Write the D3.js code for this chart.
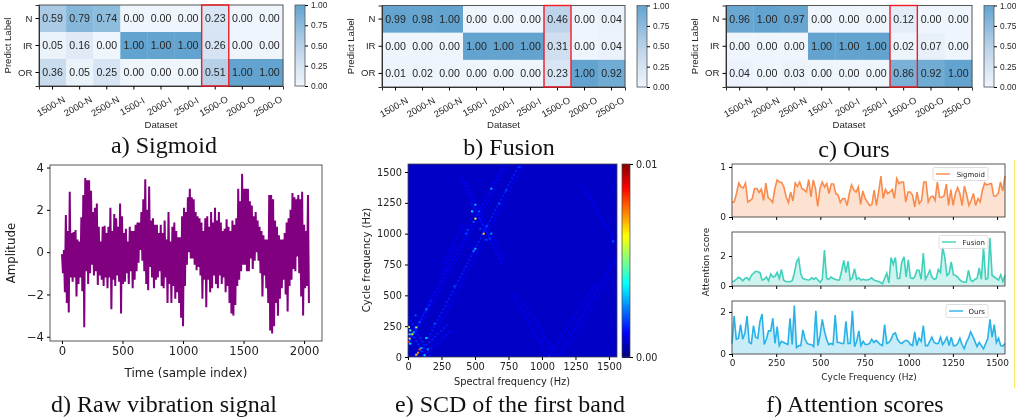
<!DOCTYPE html>
<html>
<head>
<meta charset="utf-8">
<script src="https://cdn.jsdelivr.net/npm/d3@7"></script>
<style>
  html, body { margin: 0; padding: 0; background: #fff; }
  svg { display: block; filter: blur(0.4px); }
  .caption { font-family: "Liberation Serif", serif; font-size: 24px; fill: #111; text-anchor: middle; }
  .heat text { font-family: "Liberation Sans", Arial, sans-serif; fill: #262626; }
  .mpl text { font-family: "DejaVu Sans", sans-serif; fill: #222; }
</style>
</head>
<body>
<div class="chart"></div>
<script>
// confusion matrices
var datasets = ["1500-N", "2000-N", "2500-N", "1500-I", "2000-I", "2500-I", "1500-O", "2000-O", "2500-O"];
var predictLabels = ["N", "IR", "OR"];
var sigmoidMatrix = [
  [0.59, 0.79, 0.74, 0.00, 0.00, 0.00, 0.23, 0.00, 0.00],
  [0.05, 0.16, 0.00, 1.00, 1.00, 1.00, 0.26, 0.00, 0.00],
  [0.36, 0.05, 0.25, 0.00, 0.00, 0.00, 0.51, 1.00, 1.00]
];
var fusionMatrix = [
  [0.99, 0.98, 1.00, 0.00, 0.00, 0.00, 0.46, 0.00, 0.04],
  [0.00, 0.00, 0.00, 1.00, 1.00, 1.00, 0.31, 0.00, 0.04],
  [0.01, 0.02, 0.00, 0.00, 0.00, 0.00, 0.23, 1.00, 0.92]
];
var oursMatrix = [
  [0.96, 1.00, 0.97, 0.00, 0.00, 0.00, 0.12, 0.00, 0.00],
  [0.00, 0.00, 0.00, 1.00, 1.00, 1.00, 0.02, 0.07, 0.00],
  [0.04, 0.00, 0.03, 0.00, 0.00, 0.00, 0.86, 0.92, 1.00]
];
var heatTicks = [0, 0.25, 0.5, 0.75, 1];

// raw signal, top and bottom of the trace read every 16 samples
var signalHigh = [
  -0.1, 0.1, 1.75, 1.0, 2.85, 0.9, 0.95, 1.05, 0.6, 0.5, 1.65, 2.7, 3.5, 3.4, 3.4, 2.9,
  1.9, 2.1, 2.3, 1.2, 0.5, 1.2, 1.25, 0.9, 1.2, 2.1, 1.0, 1.8, 1.6, 1.2, 2.3, 1.7,
  0.9, 1.1, 0.5, 1.2, 1.0, 1.0, 1.3, 1.4, 1.4, 1.9, 2.5, 3.45, 2.0, 3.1, 1.5, 1.6,
  1.3, 1.3, 0.9, 1.3, 0.9, 1.5, 0.6, 1.9, 0.5, 1.2, 1.4, 1.0, 0.7, 0.7, 1.7, 2.1,
  1.9, 2.6, 3.0, 2.6, 2.5, 1.9, 1.7, 1.6, 1.4, 1.0, 1.6, 1.7, 1.2, 1.9, 1.4, 2.1,
  1.5, 1.9, 1.4, 1.0, 1.1, 1.55, 1.2, 1.0, 1.5, 1.3, 1.6, 3.0, 2.4, 3.7, 3.0, 3.0,
  3.0, 2.4, 2.2, 1.7, 1.9, 1.5, 1.2, 1.0, 0.8, 0.6, 0.6, 2.7, 2.7, 2.5, 1.5, 1.2,
  0.8, 0.6, 0.6, 0.9, 1.4, 1.6, 2.0, 2.8, 2.6, 2.5, 2.7, 2.5, 2.85, 1.3, 1.0, 2.7
];
var signalLow = [
  -1.0, -1.9, -2.4, -2.85, -1.2, -1.4, -1.2, -2.1, -1.5, -1.2, -1.85, -3.55, -0.9, -1.5, -1.0, -0.6,
  -1.1, -0.9, -1.55, -1.1, -1.3, -1.6, -1.2, -1.7, -1.2, -2.7, -1.3, -1.6, -1.1, -1.4, -2.9, -1.5,
  -1.4, -1.0, -1.5, -0.9, -1.7, -1.3, -0.9, -0.5, 0.1, -0.4, -0.9, -1.5, -1.8, -0.7, -1.2, -1.7,
  -1.3, -1.2, -0.9, -1.6, -1.7, -1.2, -2.4, -1.5, -2.4, -1.6, -2.2, -1.9, -2.4, -3.1, -3.5, -1.6,
  -0.6, 0.0, -0.3, -0.3, -0.6, -0.85, -0.7, -1.1, -2.2, -1.3, -2.6, -1.3, -1.9, -1.7, -1.1, -1.5,
  -1.7, -1.1, -1.5, -1.2, -1.9, -1.6, -2.4, -2.9, -3.0, -2.5, -1.6, -1.3, -0.9, -0.6, -0.6, -0.9,
  -0.9, -0.3, -0.8, -0.4, 0.0, -0.4, -1.0, -2.1, -1.1, -1.7, -2.4, -3.7, -3.85, -3.5, -2.4, -3.0,
  -2.2, -1.7, -1.3, -2.0, -2.8, -1.6, -1.3, -0.8, -0.9, -0.2, -1.0, -2.1, -3.0, -1.7, -1.6, -2.4
];

// SCD map: [spectral Hz, cycle Hz, value]
var scdBackground = 0.0007;
var scdPeaks = [
  [565, 1000, 0.0066], [503, 1122, 0.0062], [503, 1235, 0.0030], [478, 1181, 0.0035], [530, 1181, 0.0020],
  [490, 1095, 0.0020], [503, 878, 0.0030], [490, 860, 0.0025], [622, 1000, 0.0028], [587, 1062, 0.0020],
  [435, 1000, 0.0020], [622, 1365, 0.0030], [682, 1243, 0.0022], [734, 1351, 0.0020], [833, 1540, 0.0018],
  [348, 573, 0.0020], [137, 386, 0.0025], [62, 240, 0.0055], [7, 243, 0.0060], [17, 216, 0.0045],
  [12, 184, 0.0045], [32, 184, 0.0060], [42, 200, 0.0030], [12, 149, 0.0060], [7, 122, 0.0085],
  [17, 108, 0.0035], [87, 62, 0.0078], [75, 35, 0.0075], [62, 19, 0.0065], [100, 73, 0.0030],
  [124, 13, 0.0035], [137, 154, 0.0035], [149, 62, 0.0025], [199, 270, 0.0020], [57, 338, 0.0020],
  [87, 284, 0.0020], [1530, 938, 0.0020], [995, 135, 0.0012], [1057, 13, 0.0015], [1119, 13, 0.0012],
  [1082, 81, 0.0012], [445, 1030, 0.0018], [610, 960, 0.0018], [585, 950, 0.0020], [540, 1040, 0.0018]
];
// faint diagonal ridges: [spectral from, cycle from, spectral to, cycle to, value]
var scdRidges = [
  [150, 150, 830, 1560, 0.0015], [175, 130, 860, 1560, 0.0012], [0, 120, 720, 1560, 0.0013], [25, 120, 745, 1560, 0.0011],
  [260, 750, 420, 1080, 0.0012], [230, 640, 360, 900, 0.0011],
  [400, 1450, 700, 750, 0.0013], [430, 1420, 720, 780, 0.0012], [470, 1250, 620, 950, 0.0014], [380, 1100, 500, 850, 0.0011],
  [1300, 1400, 1550, 920, 0.0012], [1050, 0, 1400, 600, 0.0012], [1120, 0, 1550, 800, 0.0012],
  [1030, 20, 780, 520, 0.0012], [1100, 20, 860, 450, 0.0012], [1200, 60, 1500, 640, 0.0010],
  [0, 100, 180, 470, 0.0015], [0, 330, 170, 0, 0.0015], [50, 0, 300, 270, 0.0015], [100, 0, 330, 220, 0.0013], [0, 250, 130, 0, 0.0016]
];

// attention scores, one value per cycle frequency bin
var sigmoidScores = [
  0.30, 0.30, 0.47, 0.68, 0.60, 0.58, 0.68, 0.30, 0.33, 0.37, 0.57, 0.57, 0.49, 0.56, 0.33, 0.68,
  0.39, 0.35, 0.29, 0.57, 0.74, 0.70, 0.69, 0.60, 0.40, 0.29, 0.50, 0.32, 0.68, 0.61, 0.70, 0.57,
  0.54, 0.50, 0.75, 0.40, 0.74, 0.57, 0.21, 0.57, 0.70, 0.60, 0.67, 0.47, 0.66, 0.66, 0.47, 0.44,
  0.29, 0.37, 0.37, 0.23, 0.47, 0.64, 0.54, 0.50, 0.60, 0.25, 0.52, 0.37, 0.30, 0.23, 0.25, 0.54,
  0.23, 0.50, 0.82, 0.37, 0.55, 0.47, 0.50, 0.55, 0.37, 0.77, 0.67, 0.70, 0.70, 0.30, 0.50, 0.50,
  0.44, 0.20, 0.50, 0.27, 0.33, 0.70, 0.70, 0.30, 0.40, 0.42, 0.33, 0.70, 0.40, 0.39, 0.42, 0.66,
  0.23, 0.55, 0.23, 0.47, 0.59, 0.47, 0.23, 0.62, 0.45, 0.23, 0.33, 0.47, 0.23, 0.37, 0.30, 0.54,
  0.68, 0.64, 0.66, 0.67, 0.42, 0.42, 0.47, 0.70, 0.52, 0.82
];
var fusionScores = [
  0.30, 0.32, 0.45, 0.58, 0.50, 0.35, 0.50, 0.55, 0.40, 0.70, 0.85, 0.98, 0.95, 0.90, 0.40, 0.45,
  0.60, 0.35, 0.80, 0.60, 0.65, 0.90, 0.50, 1.10, 0.40, 0.30, 0.28, 0.28, 0.35, 0.85, 1.60, 1.85,
  0.80, 0.50, 0.45, 0.42, 0.40, 0.55, 0.45, 0.55, 0.40, 0.25, 0.45, 2.40, 0.50, 0.45, 0.60, 0.50,
  0.45, 0.40, 0.40, 1.00, 1.70, 0.90, 1.65, 0.40, 0.55, 1.15, 0.45, 0.55, 0.40, 0.45, 0.40, 0.40,
  0.45, 0.55, 0.40, 0.35, 0.30, 0.25, 0.15, 0.50, 0.85, 0.20, 1.90, 1.45, 1.90, 0.50, 0.50, 1.60,
  1.95, 0.60, 1.75, 0.55, 0.50, 0.60, 1.05, 1.05, 0.45, 2.20, 0.45, 0.70, 1.05, 0.60, 0.45, 0.50,
  1.10, 0.90, 2.60, 1.90, 0.70, 0.85, 1.60, 0.75, 0.70, 0.60, 0.40, 0.30, 0.25, 0.25, 1.05, 0.40,
  0.30, 0.45, 0.50, 1.20, 0.45, 2.60, 0.45, 0.50, 3.20, 0.70, 0.60, 0.50, 0.40, 0.75, 0.30, 0.70
];
var oursScores = [
  0.50, 1.80, 0.70, 0.75, 1.40, 0.70, 1.00, 1.80, 0.55, 0.50, 1.35, 0.80, 0.75, 1.55, 1.90, 0.45,
  0.70, 1.10, 1.10, 1.70, 0.50, 1.30, 0.40, 0.60, 0.55, 0.50, 0.45, 1.70, 0.45, 2.30, 0.30, 0.40,
  0.40, 1.15, 0.70, 0.50, 0.45, 0.45, 0.35, 2.05, 0.40, 0.90, 1.65, 1.10, 0.70, 0.45, 0.50, 0.45,
  1.85, 0.55, 0.55, 0.50, 0.50, 1.55, 0.50, 0.50, 2.05, 0.35, 0.60, 1.10, 0.40, 0.60, 0.45, 0.45,
  0.50, 0.70, 0.55, 0.65, 0.55, 0.45, 0.40, 1.40, 0.50, 0.55, 0.70, 0.95, 1.00, 0.70, 0.55, 0.50,
  0.60, 0.65, 0.60, 0.45, 0.40, 1.05, 0.40, 0.75, 0.60, 1.35, 0.40, 0.40, 0.60, 0.80, 0.55, 0.50,
  0.50, 0.80, 0.45, 0.60, 0.80, 0.40, 0.80, 0.40, 0.40, 0.50, 0.75, 0.45, 0.25, 0.55, 0.75, 1.05,
  0.85, 0.60, 0.35, 0.55, 0.40, 0.25, 0.50, 0.75, 1.65, 0.80, 1.40, 0.55, 0.75, 0.40, 0.38, 0.50
];

var svgWidth = 1022;
var svgHeight = 420;

var svg = d3.select(".chart").append("svg")
  .attr("width", svgWidth)
  .attr("height", svgHeight);

var blues = d3.scaleLinear()
  .domain([0, 0.25, 0.5, 0.75, 1])
  .range(["#eff5fc", "#d6e4f3", "#b9d1e8", "#8cbbdc", "#62a3cf"]);

var jet = d3.scaleLinear()
  .domain([0, 0.00125, 0.00375, 0.00625, 0.00875, 0.01])
  .range(["#00007f", "#0000ff", "#00ffff", "#ffff00", "#ff0000", "#7f0000"]);

// confusion matrix with its colorbar and the red box on 1500-O
function drawHeatmap(matrix, box, barX) {
  var g = svg.append("g").attr("class", "heat");
  var x = d3.scaleBand().domain(datasets).range([box.left, box.right]);
  var y = d3.scaleBand().domain(predictLabels).range([box.top, box.bottom]);

  matrix.forEach(function(row, r) {
    row.forEach(function(value, c) {
      g.append("rect")
        .attr("x", x(datasets[c]))
        .attr("y", y(predictLabels[r]))
        .attr("width", x.bandwidth() + 0.3)
        .attr("height", y.bandwidth() + 0.3)
        .attr("fill", blues(value));
      g.append("text")
        .attr("x", x(datasets[c]) + x.bandwidth() / 2)
        .attr("y", y(predictLabels[r]) + y.bandwidth() / 2 + 3.8)
        .attr("text-anchor", "middle")
        .style("font-size", "10.6px")
        .text(value.toFixed(2));
    });
  });

  g.append("rect")
    .attr("x", box.left).attr("y", box.top)
    .attr("width", box.right - box.left).attr("height", box.bottom - box.top)
    .attr("fill", "none").attr("stroke", "#555").attr("stroke-width", 1);

  var xAxis = g.append("g")
    .attr("transform", `translate(0, ${box.bottom})`)
    .call(d3.axisBottom(x).tickSize(3.5));
  xAxis.selectAll("text")
    .attr("text-anchor", "middle")
    .attr("x", 0).attr("y", 0).attr("dy", 0)
    .attr("transform", "translate(0, 23) rotate(-30)")
    .style("font-size", "9.4px");
  xAxis.select(".domain").attr("stroke", "#333");

  var yAxis = g.append("g")
    .attr("transform", `translate(${box.left}, 0)`)
    .call(d3.axisLeft(y).tickSize(3.5));
  yAxis.selectAll("text").style("font-size", "9.6px");
  yAxis.select(".domain").attr("stroke", "#333");

  g.append("text")
    .attr("x", (box.left + box.right) / 2)
    .attr("y", 128)
    .attr("text-anchor", "middle")
    .style("font-size", "9.6px")
    .text("Dataset");

  g.append("text")
    .attr("transform", `translate(${box.left - 28.5}, ${(box.top + box.bottom) / 2}) rotate(-90)`)
    .attr("text-anchor", "middle")
    .style("font-size", "9.6px")
    .text("Predict Label");

  // highlighted column
  g.append("rect")
    .attr("x", x("1500-O"))
    .attr("y", box.top)
    .attr("width", x.bandwidth())
    .attr("height", box.bottom - box.top)
    .attr("fill", "none")
    .attr("stroke", "#ee1c25")
    .attr("stroke-width", 1.4);

  // colorbar
  var barY = d3.scaleLinear().domain([0, 1]).range([box.bottom, box.top]);
  d3.range(0, 1, 0.01).forEach(function(v) {
    g.append("rect")
      .attr("x", barX).attr("width", 10)
      .attr("y", barY(v + 0.01)).attr("height", barY(v) - barY(v + 0.01) + 0.6)
      .attr("shape-rendering", "crispEdges")
      .attr("fill", blues(v));
  });
  g.append("rect")
    .attr("x", barX).attr("y", box.top)
    .attr("width", 10).attr("height", box.bottom - box.top)
    .attr("fill", "none").attr("stroke", "#555").attr("stroke-width", 0.8);
  var barAxis = g.append("g")
    .attr("transform", `translate(${barX + 10}, 0)`)
    .call(d3.axisRight(barY).tickValues(heatTicks).tickFormat(d3.format(".2f")).tickSize(3));
  barAxis.selectAll("text").style("font-size", "8.4px");
  barAxis.select(".domain").remove();
}

drawHeatmap(sigmoidMatrix, {left: 39, right: 283, top: 5, bottom: 86}, 295);
drawHeatmap(fusionMatrix, {left: 382, right: 625, top: 5.5, bottom: 87}, 637);
drawHeatmap(oursMatrix, {left: 726, right: 972, top: 5.5, bottom: 87}, 984);

// raw vibration signal
(function() {
  var g = svg.append("g").attr("class", "mpl");
  var x = d3.scaleLinear().domain([-99, 2148]).range([50, 322]);
  var y = d3.scaleLinear().domain([-4.2, 4.12]).range([341, 165]);

  var trace = [];
  signalHigh.forEach(function(high, i) {
    trace.push([i * 16, high]);
    trace.push([i * 16 + 8, signalLow[i]]);
  });

  g.append("path")
    .datum(trace)
    .attr("fill", "none")
    .attr("stroke", "#800080")
    .attr("stroke-width", 2)
    .attr("d", d3.line().x(d => x(d[0])).y(d => y(d[1])));

  g.append("rect")
    .attr("x", 50).attr("y", 165).attr("width", 272).attr("height", 176)
    .attr("fill", "none").attr("stroke", "#444").attr("stroke-width", 0.9);

  var xAxis = g.append("g").attr("transform", "translate(0, 341)")
    .call(d3.axisBottom(x).tickValues([0, 500, 1000, 1500, 2000]).tickFormat(d3.format("d")).tickSize(3));
  xAxis.selectAll("text").style("font-size", "11.6px");
  xAxis.select(".domain").remove();
  var yAxis = g.append("g").attr("transform", "translate(50, 0)")
    .call(d3.axisLeft(y).tickValues([-4, -2, 0, 2, 4]).tickSize(3));
  yAxis.selectAll("text").style("font-size", "11.6px");
  yAxis.select(".domain").remove();

  g.append("text").attr("x", 186).attr("y", 377).attr("text-anchor", "middle")
    .style("font-size", "12px").text("Time (sample index)");
  g.append("text").attr("transform", "translate(15, 253) rotate(-90)").attr("text-anchor", "middle")
    .style("font-size", "11.8px").text("Amplitude");
})();

// SCD of the first band
(function() {
  var g = svg.append("g").attr("class", "mpl");
  var x = d3.scaleLinear().domain([0, 1560]).range([408, 617]);
  var y = d3.scaleLinear().domain([0, 1565]).range([357, 164]);
  var cell = 15.6;

  svg.append("clipPath").attr("id", "scdClip").append("rect")
    .attr("x", 408).attr("y", 164).attr("width", 209).attr("height", 193);

  g.append("rect")
    .attr("x", x(0)).attr("y", y(1565)).attr("width", x(1560) - x(0)).attr("height", y(0) - y(1565))
    .attr("fill", jet(scdBackground));

  var plot = g.append("g").attr("clip-path", "url(#scdClip)");
  plot.selectAll("line").data(scdRidges).enter().append("line")
    .attr("x1", d => x(d[0])).attr("y1", d => y(d[1]))
    .attr("x2", d => x(d[2])).attr("y2", d => y(d[3]))
    .attr("stroke", d => jet(d[4]))
    .attr("stroke-width", 1.8)
    .attr("stroke-dasharray", "2 2");
  plot.selectAll("rect").data(scdPeaks).enter().append("rect")
    .attr("x", d => x(d[0] - cell / 2))
    .attr("y", d => y(d[1] + cell / 2))
    .attr("width", x(cell) - x(0))
    .attr("height", y(0) - y(cell))
    .attr("fill", d => jet(d[2]));

  g.append("rect")
    .attr("x", 408).attr("y", 164).attr("width", 209).attr("height", 193)
    .attr("fill", "none").attr("stroke", "#444").attr("stroke-width", 0.8);

  var xAxis = g.append("g").attr("transform", "translate(0, 357)")
    .call(d3.axisBottom(x).tickValues([0, 250, 500, 750, 1000, 1250, 1500]).tickFormat(d3.format("d")).tickSize(3));
  xAxis.selectAll("text").style("font-size", "9.8px");
  xAxis.select(".domain").remove();
  var yAxis = g.append("g").attr("transform", "translate(408, 0)")
    .call(d3.axisLeft(y).tickValues([0, 250, 500, 750, 1000, 1250, 1500]).tickFormat(d3.format("d")).tickSize(3));
  yAxis.selectAll("text").style("font-size", "9.8px");
  yAxis.select(".domain").remove();

  g.append("text").attr("x", 512).attr("y", 385).attr("text-anchor", "middle")
    .style("font-size", "9.8px").text("Spectral frequency (Hz)");
  g.append("text").attr("transform", "translate(370, 260) rotate(-90)").attr("text-anchor", "middle")
    .style("font-size", "10px").text("Cycle frequency (Hz)");

  // colorbar
  var barY = d3.scaleLinear().domain([0, 0.01]).range([357, 164]);
  d3.range(0, 0.01, 0.0001).forEach(function(v) {
    g.append("rect")
      .attr("x", 622).attr("width", 8)
      .attr("y", barY(v + 0.0001)).attr("height", barY(v) - barY(v + 0.0001) + 0.6)
      .attr("shape-rendering", "crispEdges")
      .attr("fill", jet(v));
  });
  g.append("rect")
    .attr("x", 622).attr("y", 164).attr("width", 8).attr("height", 193)
    .attr("fill", "none").attr("stroke", "#444").attr("stroke-width", 0.7);
  var barAxis = g.append("g").attr("transform", "translate(630, 0)")
    .call(d3.axisRight(barY).tickValues([0, 0.01]).tickFormat(d3.format(".2f")).tickSize(3));
  barAxis.selectAll("text").style("font-size", "9.6px");
  barAxis.select(".domain").remove();
})();

// attention scores
function drawScores(scores, box, yMax, yTicks, color, name, legendLeft, showX) {
  var g = svg.append("g").attr("class", "mpl");
  var x = d3.scaleLinear().domain([0, 1545]).range([732, 1005]);
  var y = d3.scaleLinear().domain([0, yMax]).range([box.bottom, box.top]);
  var freq = i => i * 1545 / (scores.length - 1);

  g.append("path")
    .datum(scores)
    .attr("fill", color)
    .attr("fill-opacity", 0.25)
    .attr("d", d3.area().x((d, i) => x(freq(i))).y0(y(0)).y1(d => y(d)));
  g.append("path")
    .datum(scores)
    .attr("fill", "none")
    .attr("stroke", color)
    .attr("stroke-width", 1.6)
    .attr("d", d3.line().x((d, i) => x(freq(i))).y(d => y(d)));

  g.append("rect")
    .attr("x", 732).attr("y", box.top).attr("width", 273).attr("height", box.bottom - box.top)
    .attr("fill", "none").attr("stroke", "#444").attr("stroke-width", 0.9);

  var xAxis = g.append("g").attr("transform", `translate(0, ${box.bottom})`)
    .call(d3.axisBottom(x).tickValues([0, 250, 500, 750, 1000, 1250, 1500]).tickFormat(showX ? d3.format("d") : "").tickSize(3));
  xAxis.selectAll("text").style("font-size", "9px");
  xAxis.select(".domain").remove();
  var yAxis = g.append("g").attr("transform", "translate(732, 0)")
    .call(d3.axisLeft(y).tickValues(yTicks).tickFormat(d3.format("d")).tickSize(3));
  yAxis.selectAll("text").style("font-size", "9px");
  yAxis.select(".domain").remove();

  // legend
  var legendTop = box.top + 3.5;
  g.append("rect")
    .attr("x", legendLeft).attr("y", legendTop)
    .attr("width", 988 - legendLeft).attr("height", 13)
    .attr("rx", 1.5)
    .attr("fill", "#fff").attr("fill-opacity", 0.8)
    .attr("stroke", "#d5d5d5").attr("stroke-width", 0.8);
  g.append("line")
    .attr("x1", legendLeft + 3).attr("x2", legendLeft + 17)
    .attr("y1", legendTop + 6.5).attr("y2", legendTop + 6.5)
    .attr("stroke", color).attr("stroke-width", 1.4);
  g.append("text")
    .attr("x", 985).attr("y", legendTop + 9)
    .attr("text-anchor", "end")
    .style("font-size", "7px")
    .text(name);
}

drawScores(sigmoidScores, {top: 164, bottom: 217}, 1.06, [0, 1], "#f98b4d", "Sigmoid", 933, false);
drawScores(fusionScores, {top: 232, bottom: 286}, 3.6, [0, 2], "#40d0bc", "Fusion", 939, false);
drawScores(oursScores, {top: 301, bottom: 354}, 2.52, [0, 2], "#29b2e8", "Ours", 946, true);

var scoreText = svg.append("g").attr("class", "mpl");
scoreText.append("text").attr("x", 869).attr("y", 380).attr("text-anchor", "middle")
  .style("font-size", "9px").text("Cycle Frequency (Hz)");
scoreText.append("text").attr("transform", "translate(709, 262) rotate(-90)").attr("text-anchor", "middle")
  .style("font-size", "9px").text("Attention score");

// thin yellow rule at the right edge
svg.append("line")
  .attr("x1", 1014.5).attr("x2", 1014.5).attr("y1", 160).attr("y2", 388)
  .attr("stroke", "#fbe96c").attr("stroke-width", 1);

// captions
var captions = [
  ["a) Sigmoid", 164, 152.5], ["b) Fusion", 509, 155], ["c) Ours", 854, 156.5],
  ["d) Raw vibration signal", 164, 412], ["e) SCD of the first band", 510, 412], ["f) Attention scores", 855, 412]
];
svg.selectAll("text.caption").data(captions).enter().append("text")
  .attr("class", "caption")
  .attr("x", d => d[1])
  .attr("y", d => d[2])
  .text(d => d[0]);
</script>
</body>
</html>
